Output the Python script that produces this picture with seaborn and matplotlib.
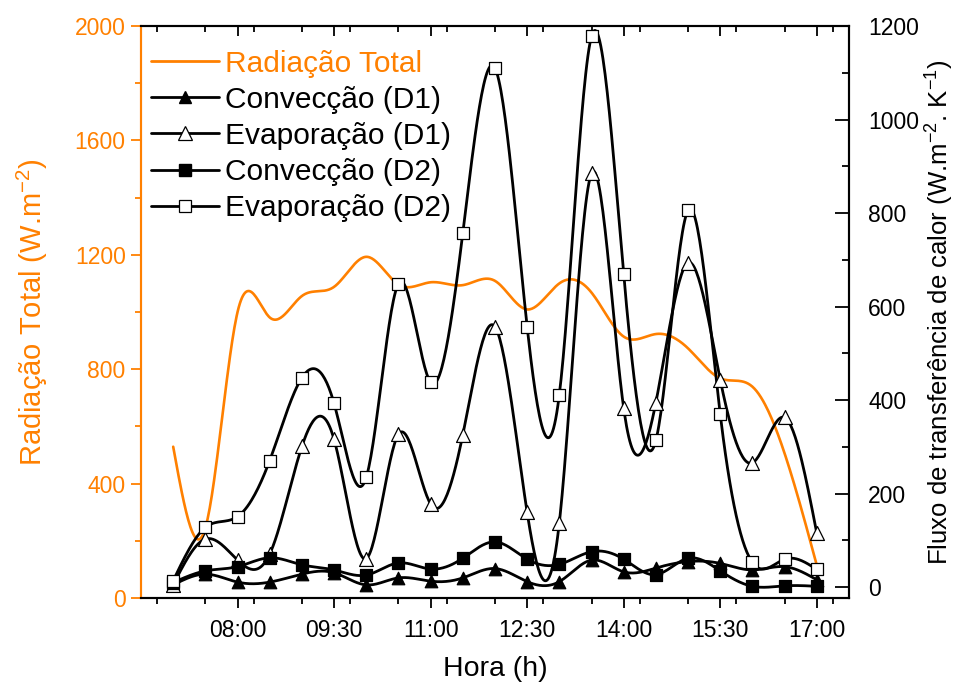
import numpy as np
import pandas as pd
import matplotlib
matplotlib.use("Agg")
import matplotlib.pyplot as plt
import seaborn as sns
from matplotlib.lines import Line2D
from matplotlib.ticker import FixedLocator, MultipleLocator

# horas de medição (h decimal)
hours = [7.0, 7.5, 8.0, 8.5, 9.0, 9.5, 10.0, 10.5, 11.0, 11.5, 12.0,
         12.5, 13.0, 13.5, 14.0, 14.5, 15.0, 15.5, 16.0, 16.5, 17.0]

radiacao = [529, 245, 1000, 981, 1056, 1088, 1193, 1096, 1104, 1094, 1109,
            1009, 1100, 1068, 914, 923, 873, 768, 739, 506, 115]
conv_d1 = [5, 28, 11, 11, 28, 31, 5, 20, 13, 20, 40,
           12, 12, 58, 33, 41, 55, 51, 37, 44, 16]
evap_d1 = [5, 103, 58, 71, 301, 316, 61, 327, 178, 326, 557,
           160, 138, 885, 383, 395, 694, 444, 266, 363, 116]
conv_d2 = [10, 35, 44, 63, 48, 37, 26, 52, 39, 62, 97,
           60, 49, 76, 60, 27, 62, 35, 2, 3, 2]
evap_d2 = [14, 128, 151, 271, 448, 393, 235, 649, 438, 757, 1110,
           557, 412, 1178, 669, 314, 806, 370, 53, 60, 38]

tick_hours = [8.0, 9.5, 11.0, 12.5, 14.0, 15.5, 17.0]
tick_labels = ["08:00", "09:30", "11:00", "12:30", "14:00", "15:30", "17:00"]

ORANGE = "#FF8000"


def spline(x, y, n=600):
    # spline cúbica natural, só para desenhar a curva suave
    x = np.asarray(x, float)
    y = np.asarray(y, float)
    h = np.diff(x)
    m = len(x)
    A = np.zeros((m, m))
    b = np.zeros(m)
    A[0, 0] = A[-1, -1] = 1
    for i in range(1, m - 1):
        A[i, i - 1] = h[i - 1]
        A[i, i] = 2 * (h[i - 1] + h[i])
        A[i, i + 1] = h[i]
        b[i] = 6 * ((y[i + 1] - y[i]) / h[i] - (y[i] - y[i - 1]) / h[i - 1])
    M = np.linalg.solve(A, b)
    xs = np.linspace(x[0], x[-1], n)
    k = np.clip(np.searchsorted(x, xs) - 1, 0, m - 2)
    t0 = x[k + 1] - xs
    t1 = xs - x[k]
    hk = h[k]
    ys = (M[k] * t0 ** 3 + M[k + 1] * t1 ** 3) / (6 * hk) \
        + (y[k] / hk - M[k] * hk / 6) * t0 \
        + (y[k + 1] / hk - M[k + 1] * hk / 6) * t1
    return xs, ys


sns.set_style("ticks")
plt.rcParams["font.family"] = ["Liberation Sans", "DejaVu Sans"]
plt.rcParams["mathtext.default"] = "regular"
plt.rcParams["text.color"] = "black"
plt.rcParams["axes.labelcolor"] = "black"
plt.rcParams["xtick.color"] = "black"
plt.rcParams["ytick.color"] = "black"

fig = plt.figure(figsize=(9.56, 6.85), dpi=100)
ax = fig.add_axes([0.1475, 0.127, 0.888 - 0.1475, 0.962 - 0.127])
ax2 = ax.twinx()

# radiação (eixo esquerdo)
xs, ys = spline(hours, radiacao)
sns.lineplot(x=xs, y=ys, ax=ax, color=ORANGE, linewidth=1.9,
             sort=False, estimator=None)

# fluxos (eixo direito)
series = [
    (conv_d1, "^", "black", 9),
    (evap_d1, "^", "white", 10),
    (conv_d2, "s", "black", 8),
    (evap_d2, "s", "white", 8),
]
for vals, mk, fc, ms in series:
    xs, ys = spline(hours, vals)
    sns.lineplot(x=xs, y=ys, ax=ax2, color="black", linewidth=2.0,
                 sort=False, estimator=None, zorder=2)
for vals, mk, fc, ms in series:
    sns.scatterplot(x=hours, y=vals, ax=ax2, marker=mk, s=ms ** 2,
                    facecolor=fc, edgecolor="black", linewidth=0.9,
                    zorder=3)

ax.set_xlim(6.5, 17.5)
ax.set_ylim(0, 2000)
ax2.set_ylim(-23, 1200)

ax.xaxis.set_major_locator(FixedLocator(tick_hours))
ax.set_xticklabels(tick_labels)
ax.xaxis.set_minor_locator(MultipleLocator(0.75))
ax.yaxis.set_major_locator(MultipleLocator(400))
ax.yaxis.set_minor_locator(MultipleLocator(200))
ax2.yaxis.set_major_locator(MultipleLocator(200))
ax2.yaxis.set_minor_locator(MultipleLocator(100))
ax2.set_ylim(-23, 1200)

fs_tick = 16.5
ax.tick_params(axis="x", which="major", direction="out", length=7,
               width=1.3, labelsize=fs_tick, bottom=True, top=False, pad=8)
ax.tick_params(axis="x", which="minor", direction="out", length=4,
               width=1.3, bottom=True, top=False)
ax.tick_params(axis="y", which="major", direction="out", length=7,
               width=1.3, colors=ORANGE, labelsize=fs_tick, pad=4)
ax.tick_params(axis="y", which="minor", direction="out", length=4,
               width=1.3, colors=ORANGE)
ax2.tick_params(axis="y", which="major", direction="in", length=10,
                width=1.3, labelsize=fs_tick, pad=14)
ax2.tick_params(axis="y", which="minor", direction="in", length=5,
                width=1.3)

# marcas de cima, para dentro
ax2.xaxis.set_visible(True)
ax2.xaxis.tick_top()
ax2.xaxis.set_major_locator(FixedLocator(tick_hours))
ax2.xaxis.set_minor_locator(MultipleLocator(0.75))
ax2.tick_params(axis="x", which="both", direction="in", length=7,
                width=1.3, labeltop=False, labelbottom=False,
                top=True, bottom=False)
ax2.tick_params(axis="x", which="minor", length=4)

for a in (ax, ax2):
    for s in a.spines.values():
        s.set_linewidth(1.5)
        s.set_color("black")
ax.spines["left"].set_color(ORANGE)
ax2.spines["left"].set_color(ORANGE)

ax.set_xlabel("Hora (h)", fontsize=20.5, labelpad=10)
ax.set_ylabel("Radiação Total (W.m$^{-2}$)", fontsize=21, color=ORANGE,
              labelpad=18)
ax2.set_ylabel("Fluxo de transferência de calor (W.m$^{-2}$. K$^{-1}$)",
               fontsize=18.5, labelpad=3)

handles = [
    Line2D([], [], color=ORANGE, lw=2),
    Line2D([], [], color="black", lw=2, marker="^", ms=9,
           mfc="black", mec="black"),
    Line2D([], [], color="black", lw=2, marker="^", ms=10,
           mfc="white", mec="black", mew=0.9),
    Line2D([], [], color="black", lw=2, marker="s", ms=8,
           mfc="black", mec="black"),
    Line2D([], [], color="black", lw=2, marker="s", ms=8,
           mfc="white", mec="black", mew=0.9),
]
labels = ["Radiação Total", "Convecção (D1)", "Evaporação (D1)",
          "Convecção (D2)", "Evaporação (D2)"]
leg = ax2.legend(handles, labels, loc="upper left",
                 bbox_to_anchor=(-0.016, 0.995),
                 frameon=False, fontsize=21.5, handlelength=2.3,
                 handletextpad=0.2, labelspacing=0.27, borderaxespad=0.3)
leg.get_texts()[0].set_color(ORANGE)

fig.savefig("out.png", dpi=100)
